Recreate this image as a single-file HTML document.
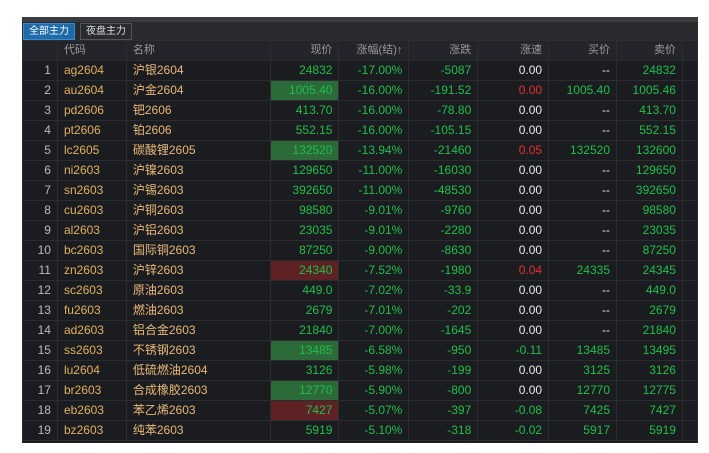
<!DOCTYPE html>
<html><head><meta charset="utf-8"><style>
body{margin:0;width:709px;height:453px;background:#fff;position:relative;overflow:hidden;font-family:"Liberation Sans","Noto Sans CJK SC",sans-serif;font-size:12px}
#p{position:absolute;left:22px;top:17px;width:676px;height:426px;background:#1b1c20}
#strip{position:absolute;left:0;top:0;width:676px;height:5px;background:#3a3b3f}
#tabs{position:absolute;left:0;top:5px;width:676px;height:18px;background:#2a2b2f}
.tab{position:absolute;top:1px;height:15px;line-height:15px;font-size:10px;padding:0 5px;color:#ddd;border:1px solid #555}
table{position:absolute;left:0;top:23px;border-collapse:collapse;table-layout:fixed}
td{height:19px;padding:0 6px;border:1px solid #2c2d31;white-space:nowrap;overflow:hidden;color:#1fbf4a;text-align:right;line-height:19px}
tr.h td{height:17px;background:#24252a;color:#9a9a9a;font-size:11px}
td.i{color:#bbb;text-align:right}
td.c{color:#e0b060;text-align:left}
td.n{color:#e8b878;text-align:left}
td.w{color:#e8e8e8}
td.r{color:#e03030}
td.g{background:#2c6a3a}
td.rb{background:#5e2224}
</style></head><body>
<div id="p"><div id="strip"></div><div id="tabs">
<div class="tab" style="left:1px;background:#1f6aa8;border-color:#3b8ad0;color:#fff">全部主力</div>
<div class="tab" style="left:58px">夜盘主力</div></div>
<table>
<colgroup><col style="width:35px"><col style="width:69px"><col style="width:144px"><col style="width:69px"><col style="width:70px"><col style="width:69px"><col style="width:71px"><col style="width:68px"><col style="width:66px"><col style="width:15px"></colgroup>
<tr class="h"><td></td><td style="text-align:left">代码</td><td style="text-align:left">名称</td><td>现价</td><td>涨幅(结)↑</td><td>涨跌</td><td>涨速</td><td>买价</td><td>卖价</td><td></td></tr>
<tr><td class="i">1</td><td class="c">ag2604</td><td class="n">沪银2604</td><td>24832</td><td>-17.00%</td><td>-5087</td><td class="w">0.00</td><td class="w">--</td><td>24832</td><td></td></tr>
<tr><td class="i">2</td><td class="c">au2604</td><td class="n">沪金2604</td><td class="g">1005.40</td><td>-16.00%</td><td>-191.52</td><td class="r">0.00</td><td>1005.40</td><td>1005.46</td><td></td></tr>
<tr><td class="i">3</td><td class="c">pd2606</td><td class="n">钯2606</td><td>413.70</td><td>-16.00%</td><td>-78.80</td><td class="w">0.00</td><td class="w">--</td><td>413.70</td><td></td></tr>
<tr><td class="i">4</td><td class="c">pt2606</td><td class="n">铂2606</td><td>552.15</td><td>-16.00%</td><td>-105.15</td><td class="w">0.00</td><td class="w">--</td><td>552.15</td><td></td></tr>
<tr><td class="i">5</td><td class="c">lc2605</td><td class="n">碳酸锂2605</td><td class="g">132520</td><td>-13.94%</td><td>-21460</td><td class="r">0.05</td><td>132520</td><td>132600</td><td></td></tr>
<tr><td class="i">6</td><td class="c">ni2603</td><td class="n">沪镍2603</td><td>129650</td><td>-11.00%</td><td>-16030</td><td class="w">0.00</td><td class="w">--</td><td>129650</td><td></td></tr>
<tr><td class="i">7</td><td class="c">sn2603</td><td class="n">沪锡2603</td><td>392650</td><td>-11.00%</td><td>-48530</td><td class="w">0.00</td><td class="w">--</td><td>392650</td><td></td></tr>
<tr><td class="i">8</td><td class="c">cu2603</td><td class="n">沪铜2603</td><td>98580</td><td>-9.01%</td><td>-9760</td><td class="w">0.00</td><td class="w">--</td><td>98580</td><td></td></tr>
<tr><td class="i">9</td><td class="c">al2603</td><td class="n">沪铝2603</td><td>23035</td><td>-9.01%</td><td>-2280</td><td class="w">0.00</td><td class="w">--</td><td>23035</td><td></td></tr>
<tr><td class="i">10</td><td class="c">bc2603</td><td class="n">国际铜2603</td><td>87250</td><td>-9.00%</td><td>-8630</td><td class="w">0.00</td><td class="w">--</td><td>87250</td><td></td></tr>
<tr><td class="i">11</td><td class="c">zn2603</td><td class="n">沪锌2603</td><td class="rb">24340</td><td>-7.52%</td><td>-1980</td><td class="r">0.04</td><td>24335</td><td>24345</td><td></td></tr>
<tr><td class="i">12</td><td class="c">sc2603</td><td class="n">原油2603</td><td>449.0</td><td>-7.02%</td><td>-33.9</td><td class="w">0.00</td><td class="w">--</td><td>449.0</td><td></td></tr>
<tr><td class="i">13</td><td class="c">fu2603</td><td class="n">燃油2603</td><td>2679</td><td>-7.01%</td><td>-202</td><td class="w">0.00</td><td class="w">--</td><td>2679</td><td></td></tr>
<tr><td class="i">14</td><td class="c">ad2603</td><td class="n">铝合金2603</td><td>21840</td><td>-7.00%</td><td>-1645</td><td class="w">0.00</td><td class="w">--</td><td>21840</td><td></td></tr>
<tr><td class="i">15</td><td class="c">ss2603</td><td class="n">不锈钢2603</td><td class="g">13485</td><td>-6.58%</td><td>-950</td><td>-0.11</td><td>13485</td><td>13495</td><td></td></tr>
<tr><td class="i">16</td><td class="c">lu2604</td><td class="n">低硫燃油2604</td><td>3126</td><td>-5.98%</td><td>-199</td><td class="w">0.00</td><td>3125</td><td>3126</td><td></td></tr>
<tr><td class="i">17</td><td class="c">br2603</td><td class="n">合成橡胶2603</td><td class="g">12770</td><td>-5.90%</td><td>-800</td><td class="w">0.00</td><td>12770</td><td>12775</td><td></td></tr>
<tr><td class="i">18</td><td class="c">eb2603</td><td class="n">苯乙烯2603</td><td class="rb">7427</td><td>-5.07%</td><td>-397</td><td>-0.08</td><td>7425</td><td>7427</td><td></td></tr>
<tr><td class="i">19</td><td class="c">bz2603</td><td class="n">纯苯2603</td><td>5919</td><td>-5.10%</td><td>-318</td><td>-0.02</td><td>5917</td><td>5919</td><td></td></tr>
</table></div>
</body></html>
